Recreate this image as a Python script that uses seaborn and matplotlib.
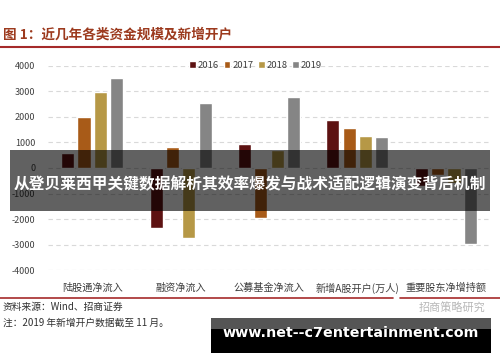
import pandas as pd
import numpy as np
import seaborn as sns
import matplotlib.pyplot as plt
from matplotlib.patches import Rectangle
from matplotlib.lines import Line2D

categories = ['陆股通净流入', '融资净流入', '公募基金净流入', '新增A股开户(万人)', '重要股东净增持额']
years = ['2016', '2017', '2018', '2019']
v2016 = [600, -2350, 930, 1880, -700]
v2017 = [2000, 830, -1940, 1580, -280]
v2018 = [2950, -2720, 700, 1230, -600]
v2019 = [3500, 2550, 2790, 1220, -2970]
colors = ['#6a0505', '#c05a00', '#c9a033', '#858585']

rows = []
for year, vals in zip(years, [v2016, v2017, v2018, v2019]):
    for cat, v in zip(categories, vals):
        rows.append({'cat': cat, 'year': year, 'val': v})
df = pd.DataFrame(rows)

sns.set_theme(style='white')
plt.rcParams['font.family'] = ['Noto Sans CJK SC', 'DejaVu Sans']
plt.rcParams['axes.unicode_minus'] = False

fig = plt.figure(figsize=(5, 3.62), dpi=100)
ax = fig.add_axes([0.096, 0.253, 0.884, 0.566])

sns.barplot(data=df, x='cat', y='val', hue='year', palette=colors,
            width=0.74, gap=0.2, ax=ax, zorder=3)

ax.set_xlim(-0.5, 4.5)
ax.set_ylim(-4000, 4000)
ax.set_yticks(np.arange(-4000, 4001, 1000))
ax.set_xlabel('')
ax.set_ylabel('')
ax.yaxis.grid(True, linestyle=(0, (4, 3)), color='#d9d9d9', linewidth=0.8, zorder=0)
for s in ax.spines.values():
    s.set_visible(False)
ax.tick_params(axis='y', length=0, pad=9, labelsize=6.5, labelcolor='#404040')
ax.tick_params(axis='x', length=0, pad=9, labelsize=7.3, labelcolor='#404040')

ax.legend(loc='center', bbox_to_anchor=(0.47, 1.0), ncol=4, frameon=False,
          fontsize=6.8, handlelength=0.7, handleheight=0.7, handletextpad=0.2,
          columnspacing=0.5, labelcolor='#404040')

# header
fig.text(0.006, 1 - 35 / 362, '图 1：近几年各类资金规模及新增开户', fontsize=9.8,
         color='#9c3a1e', fontweight='bold', va='center', ha='left')
fig.add_artist(Line2D([0, 1], [1 - 47 / 362] * 2, color='#a52a2a', linewidth=1.5))

# footer
fig.add_artist(Line2D([0, 0.785], [1 - 298 / 362] * 2, color='#a52a2a', linewidth=1.2))
fig.add_artist(Line2D([0.8, 1], [1 - 298 / 362] * 2, color='#a52a2a', linewidth=1.2))
fig.text(0.006, 1 - 307 / 362, '资料来源：Wind、招商证券', fontsize=7,
         color='#303030', va='center', ha='left')
fig.text(0.006, 1 - 323 / 362, '注：2019 年新增开户数据截至 11 月。', fontsize=7,
         color='#303030', va='center', ha='left')
fig.text(0.97, 1 - 307 / 362, '招商策略研究', fontsize=8,
         color='#b8b8b8', va='center', ha='right')

# overlay banner
fig.add_artist(Rectangle((10 / 500, 1 - 211 / 362), 480 / 500, 61 / 362,
                         transform=fig.transFigure, facecolor='black',
                         alpha=0.62, edgecolor='none'))
fig.text(0.5, 1 - 184 / 362, '从登贝莱西甲关键数据解析其效率爆发与战术适配逻辑演变背后机制',
         fontsize=11.3, color='white', fontweight='bold', va='center', ha='center')

# bottom box
fig.add_artist(Rectangle((211 / 500, 1 - 329 / 362), 280 / 500, 11 / 362,
                         transform=fig.transFigure, facecolor='#555555', edgecolor='none'))
fig.add_artist(Rectangle((211 / 500, 1 - 353 / 362), 280 / 500, 24 / 362,
                         transform=fig.transFigure, facecolor='black', edgecolor='none'))
fig.text(351 / 500, 1 - 333 / 362, 'www.net--c7entertainment.com', fontsize=10.3,
         color='white', fontweight='bold', va='center', ha='center',
         family='DejaVu Sans')

fig.savefig('out.png', dpi=100)
